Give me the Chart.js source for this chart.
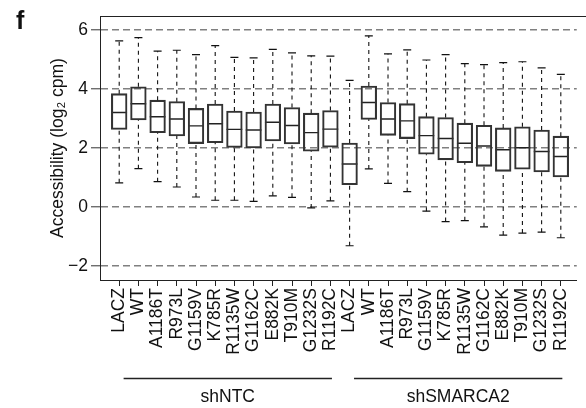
<!DOCTYPE html>
<html lang="en">
<head>
<meta charset="UTF-8">
<title>Accessibility - shNTC vs shSMARCA2</title>
<script src="https://cdn.jsdelivr.net/npm/chart.js"></script>
<style>
    html, body {
        margin: 0;
        padding: 0;
        background: #fff;
    }
</style>
</head>
<body>
<canvas id="boxChart" width="586" height="408"></canvas>
<script>
    const mutants = ['LACZ', 'WT', 'A1186T', 'R973L', 'G1159V', 'K785R', 'R1135W', 'G1162C', 'E882K', 'T910M', 'G1232S', 'R1192C'];
    const groups = ['shNTC', 'shSMARCA2'];
    const categories = groups.flatMap(() => mutants);

    // box plot stats (log2 cpm)
    const whiskerHigh = [5.63, 5.74, 5.28, 5.31, 5.16, 5.47, 5.07, 5.05, 5.34, 5.22, 5.12, 5.11,
                         4.29, 5.80, 5.19, 5.32, 4.98, 5.16, 4.86, 4.82, 4.89, 4.92, 4.71, 4.49];
    const q3 = [3.84, 4.07, 3.62, 3.57, 3.34, 3.49, 3.25, 3.22, 3.49, 3.37, 3.18, 3.27,
                2.17, 4.10, 3.54, 3.50, 3.06, 3.03, 2.84, 2.77, 2.68, 2.72, 2.61, 2.40];
    const median = [3.20, 3.50, 3.06, 2.98, 2.75, 2.82, 2.63, 2.61, 2.87, 2.76, 2.52, 2.64,
                    1.46, 3.54, 2.98, 2.92, 2.42, 2.32, 2.16, 2.07, 1.94, 2.01, 1.88, 1.71];
    const q1 = [2.63, 2.95, 2.52, 2.41, 2.15, 2.18, 2.02, 2.00, 2.24, 2.14, 1.89, 2.03,
                0.76, 2.97, 2.43, 2.32, 1.79, 1.60, 1.50, 1.38, 1.21, 1.28, 1.19, 1.02];
    const whiskerLow = [0.82, 1.30, 0.86, 0.68, 0.34, 0.23, 0.23, 0.19, 0.38, 0.33, -0.03, 0.21,
                        -1.31, 1.29, 0.80, 0.52, -0.14, -0.49, -0.46, -0.67, -0.95, -0.88, -0.85, -1.04];

    const yTicks = [-2, 0, 2, 4, 6];

    const FONT = "'Liberation Sans', Arial, sans-serif";

    const boxData = categories.map((c, i) => ({x: i + 1, y: [q1[i], q3[i]]}));
    const medianData = categories.map((c, i) => ({x: i + 1, y: median[i]}));
    const capData = [];
    const whiskerData = [];
    categories.forEach((c, i) => {
        capData.push({x: i + 1, y: whiskerHigh[i]}, {x: i + 1, y: whiskerLow[i]});
        whiskerData.push({x: i + 1, y: q3[i]}, {x: i + 1, y: whiskerHigh[i]}, {x: i + 1, y: null});
        whiskerData.push({x: i + 1, y: whiskerLow[i]}, {x: i + 1, y: q1[i]}, {x: i + 1, y: null});
    });

    // frame (top + left), group brackets, panel letter
    const decorations = {
        id: 'decorations',
        afterDraw(chart) {
            const {ctx, chartArea} = chart;
            const x = chart.scales.x;
            ctx.save();
            ctx.strokeStyle = '#222';
            ctx.lineWidth = 1;
            ctx.setLineDash([]);
            ctx.beginPath();
            ctx.moveTo(chart.width, chartArea.top + 0.5);
            ctx.lineTo(chartArea.left + 0.5, chartArea.top + 0.5);
            ctx.lineTo(chartArea.left + 0.5, chartArea.bottom);
            ctx.stroke();

            ctx.font = '17.5px ' + FONT;
            ctx.fillStyle = '#111';
            ctx.textAlign = 'center';
            ctx.textBaseline = 'alphabetic';
            groups.forEach((g, gi) => {
                const first = gi * mutants.length + 1;
                const last = first + mutants.length - 1;
                const x0 = x.getPixelForValue(first + 0.23);
                const x1 = x.getPixelForValue(last + 0.08);
                ctx.lineWidth = 1.3;
                ctx.beginPath();
                ctx.moveTo(x0, 378.5);
                ctx.lineTo(x1, 378.5);
                ctx.stroke();
                ctx.fillText(g, (x0 + x1) / 2, 402);
            });

            ctx.font = 'bold 25px ' + FONT;
            ctx.textAlign = 'left';
            ctx.fillText('f', 16, 29);
            ctx.restore();
        }
    };

    new Chart(document.getElementById('boxChart'), {
        type: 'bar',
        data: {
            datasets: [
                {
                    type: 'line',
                    data: whiskerData,
                    borderColor: '#111',
                    borderWidth: 1.1,
                    borderDash: [4, 4],
                    pointRadius: 0,
                    spanGaps: false,
                    tension: 0
                },
                {
                    type: 'scatter',
                    data: capData,
                    pointStyle: 'line',
                    pointRadius: 4,
                    borderColor: '#111',
                    borderWidth: 1.2
                },
                {
                    type: 'bar',
                    data: boxData,
                    backgroundColor: 'rgba(255,255,255,0)',
                    borderColor: '#333',
                    borderWidth: 1.4,
                    borderSkipped: false,
                    barThickness: 15.7
                },
                {
                    type: 'scatter',
                    data: medianData,
                    pointStyle: 'line',
                    pointRadius: 7.85,
                    borderColor: '#222',
                    borderWidth: 1.4
                }
            ]
        },
        options: {
            responsive: false,
            animation: false,
            layout: {
                padding: {left: 48, top: 16, right: 0, bottom: 51}
            },
            plugins: {
                legend: {display: false},
                tooltip: {enabled: false}
            },
            scales: {
                x: {
                    type: 'linear',
                    min: 0,
                    max: 24.83,
                    offset: false,
                    afterBuildTicks: s => { s.ticks = categories.map((c, i) => ({value: i + 1})); },
                    afterFit: s => { s.height = 77; s.paddingRight = 0; s.paddingLeft = 0; },
                    ticks: {
                        autoSkip: false,
                        maxRotation: 90,
                        minRotation: 90,
                        padding: 2,
                        color: '#111',
                        font: {family: FONT, size: 17.5},
                        callback: v => categories[v - 1]
                    },
                    grid: {
                        offset: false,
                        drawOnChartArea: false,
                        tickLength: 6,
                        tickColor: '#222',
                        tickWidth: 1
                    },
                    border: {color: '#222', width: 1}
                },
                y: {
                    min: -2.47,
                    max: 6.47,
                    afterBuildTicks: s => { s.ticks = yTicks.map(v => ({value: v})); },
                    afterFit: s => { s.width = 52; },
                    title: {
                        display: true,
                        text: 'Accessibility (log\u2082 cpm)',
                        color: '#111',
                        font: {family: FONT, size: 17.5},
                        padding: 0
                    },
                    ticks: {
                        padding: 3,
                        color: '#111',
                        font: {family: FONT, size: 17.5},
                        callback: v => String(v).replace('-', '\u2212')
                    },
                    grid: {
                        color: '#808080',
                        lineWidth: 1.5,
                        tickLength: 9,
                        tickColor: '#555',
                        tickWidth: 1.2,
                        tickBorderDash: []
                    },
                    // in v4 the grid line dash is read from border.dash
                    border: {color: '#222', width: 1, dash: [7, 4]}
                }
            }
        },
        plugins: [decorations]
    });
</script>
</body>
</html>
